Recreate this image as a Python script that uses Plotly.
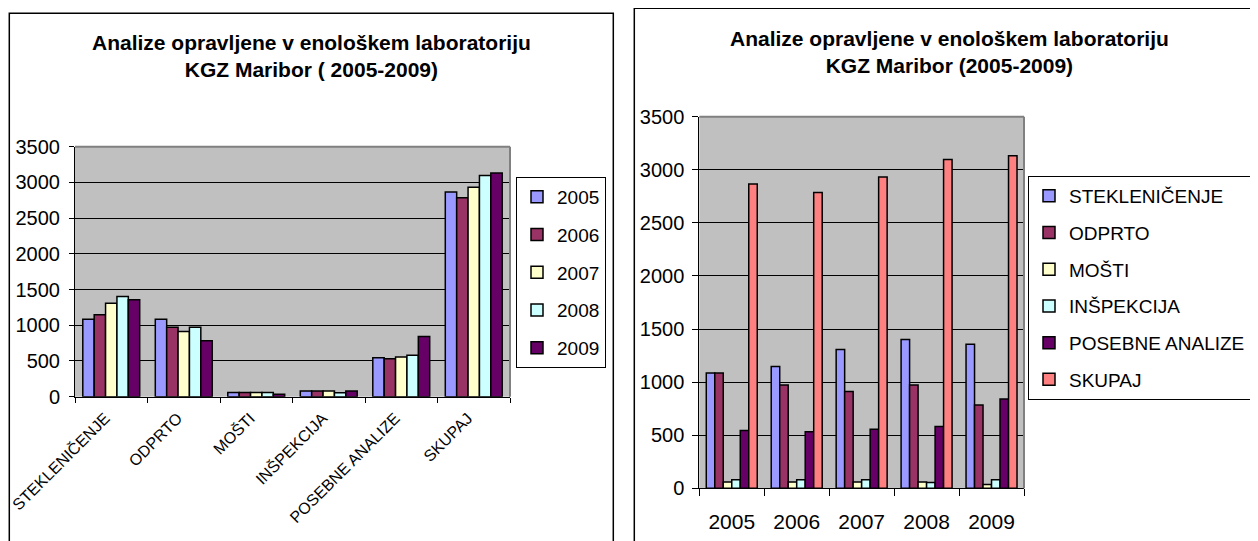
import plotly.graph_objects as go

# ---------------- data ----------------
categories = ["STEKLENIČENJE", "ODPRTO", "MOŠTI", "INŠPEKCIJA", "POSEBNE ANALIZE", "SKUPAJ"]
years = ["2005", "2006", "2007", "2008", "2009"]

steklenicenje = [1085, 1147, 1308, 1402, 1356]
odprto = [1085, 973, 912, 973, 785]
mosti = [60, 60, 60, 60, 35]
inspekcija = [80, 80, 80, 55, 80]
posebne_analize = [545, 532, 555, 581, 842]
skupaj = [2866, 2787, 2932, 3098, 3133]

series_by_category = [steklenicenje, odprto, mosti, inspekcija, posebne_analize, skupaj]

year_colors = ["#9999FF", "#993366", "#FFFFCC", "#CCFFFF", "#660066"]
cat_colors = ["#9999FF", "#993366", "#FFFFCC", "#CCFFFF", "#660066", "#FF8080"]

title_left = "Analize opravljene v enološkem laboratoriju<br>KGZ Maribor ( 2005-2009)"
title_right = "Analize opravljene v enološkem laboratoriju<br>KGZ Maribor (2005-2009)"

# ---------------- figure ----------------
# the page body has an 8px margin, so the figure is drawn 8px in from the window corner
OFF = 8
W, H = 1258 - OFF, 541 - OFF
FONT = "Liberation Sans, Arial, sans-serif"
NARROW = "Liberation Sans Narrow, Arial Narrow, Liberation Sans, sans-serif"


def px_x(v):
    """window pixel x -> paper fraction"""
    return (v - OFF) / W


def px_y(v):
    """window pixel y -> paper fraction"""
    return 1 - (v - OFF) / H


fig = go.Figure()

# Left chart: one trace per year, categories on x
for yi, yr in enumerate(years):
    fig.add_trace(go.Bar(
        x=categories,
        y=[series[yi] for series in series_by_category],
        name=yr,
        marker=dict(color=year_colors[yi], line=dict(color="black", width=1.5)),
        xaxis="x", yaxis="y",
        legend="legend", legendgroup="L" + yr,
    ))

# Right chart: one trace per category, years on x
for ci, cat in enumerate(categories):
    fig.add_trace(go.Bar(
        x=years,
        y=series_by_category[ci],
        name=cat,
        marker=dict(color=cat_colors[ci], line=dict(color="black", width=1.5)),
        xaxis="x2", yaxis="y2",
        legend="legend2", legendgroup="R" + cat,
    ))

axis_common = dict(showline=True, linecolor="black", linewidth=1, ticks="outside",
                   tickcolor="black", tickwidth=1, zeroline=False)

fig.update_layout(
    width=W, height=H,
    margin=dict(l=0, r=0, t=0, b=0, autoexpand=False),
    paper_bgcolor="white",
    plot_bgcolor="#C0C0C0",
    barmode="group",
    bargap=0.215,
    bargroupgap=0,
    font=dict(family=FONT, color="black"),
    xaxis=dict(domain=[px_x(75), px_x(510)], anchor="y", type="category",
               tickangle=-45, tickson="boundaries", ticklen=5, showgrid=False,
               ticklabelstandoff=5, ticklabelshift=-6,
               tickfont=dict(family=FONT, size=16, color="black"), **axis_common),
    yaxis=dict(domain=[px_y(396.7), px_y(146.7)], anchor="x", range=[0, 3500],
               dtick=500, ticklen=5, showgrid=True, gridcolor="black", gridwidth=1,
               ticklabelstandoff=5,
               tickfont=dict(family=FONT, size=20, color="black"), **axis_common),
    xaxis2=dict(domain=[px_x(699.3), px_x(1024)], anchor="y2", type="category",
                tickson="boundaries", ticklen=7, showgrid=False, ticklabelstandoff=14,
                tickfont=dict(family=FONT, size=21, color="black"), **axis_common),
    yaxis2=dict(domain=[px_y(488.3), px_y(116.7)], anchor="x2", range=[0, 3500],
                dtick=500, ticklen=6, showgrid=True, gridcolor="black", gridwidth=1,
                ticklabelstandoff=4,
                tickfont=dict(family=FONT, size=20, color="black"), **axis_common),
    legend=dict(x=px_x(516), y=px_y(177), xanchor="left", yanchor="top",
                bgcolor="white", bordercolor="black", borderwidth=1,
                font=dict(family=FONT, size=19, color="black"),
                traceorder="grouped", tracegroupgap=10),
    legend2=dict(x=px_x(1028), y=px_y(176), xanchor="left", yanchor="top",
                 bgcolor="white", bordercolor="black", borderwidth=1,
                 font=dict(family=NARROW, size=19, color="black"),
                 traceorder="grouped", tracegroupgap=9),
    showlegend=True,
)

shapes = [
    # chart frames
    dict(type="rect", xref="paper", yref="paper", x0=px_x(9.3), x1=px_x(613.3),
         y0=-0.05, y1=px_y(13.3), line=dict(color="black", width=1.5)),
    dict(type="rect", xref="paper", yref="paper", x0=px_x(634.3), x1=1.05,
         y0=-0.05, y1=px_y(8.3), line=dict(color="black", width=1.5)),
]
# plot-area grey borders (top and right)
for xr, yr in (("x", "y"), ("x2", "y2")):
    shapes.append(dict(type="line", xref=xr + " domain", yref=yr + " domain",
                       x0=0, x1=1, y0=1, y1=1, line=dict(color="#808080", width=2)))
    shapes.append(dict(type="line", xref=xr + " domain", yref=yr + " domain",
                       x0=1, x1=1, y0=0, y1=1, line=dict(color="#808080", width=2)))
fig.update_layout(shapes=shapes)

fig.add_annotation(text="<b>" + title_left + "</b>", xref="paper", yref="paper",
                   x=px_x(311), y=px_y(56), xanchor="center", yanchor="middle",
                   showarrow=False, font=dict(family=FONT, size=21, color="black"))
fig.add_annotation(text="<b>" + title_right + "</b>", xref="paper", yref="paper",
                   x=px_x(949), y=px_y(52), xanchor="center", yanchor="middle",
                   showarrow=False, font=dict(family=FONT, size=21, color="black"))

fig.write_html("out.html")
